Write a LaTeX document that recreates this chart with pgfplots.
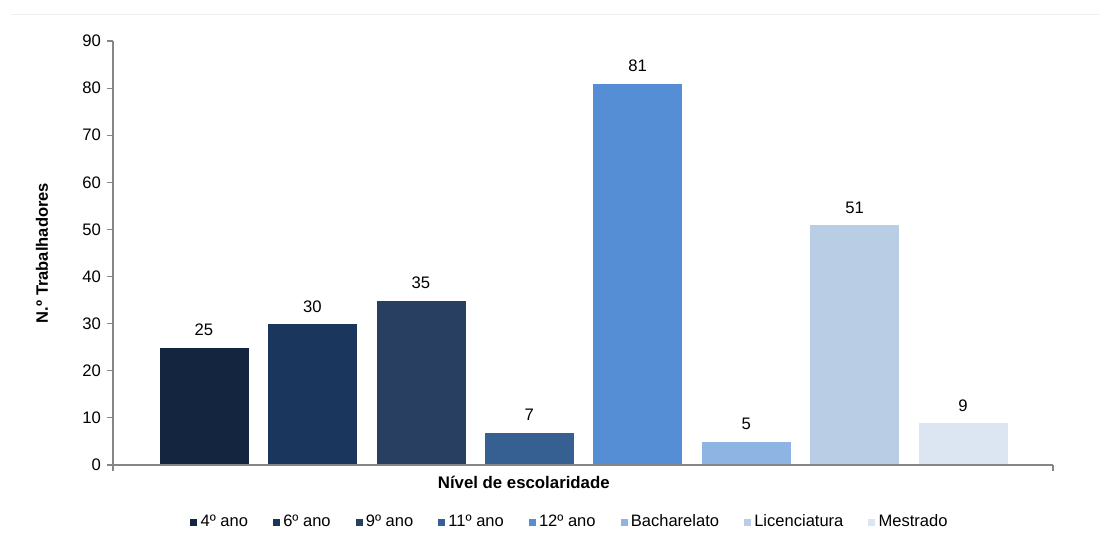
\documentclass[border=0pt]{standalone}
\usepackage{pgfplots}
\pgfplotsset{compat=1.18}
\usepackage{fontspec}
\setmainfont{Liberation Sans}

% Excel-like blue shades
\definecolor{c1}{RGB}{20,38,63}
\definecolor{c2}{RGB}{26,54,93}
\definecolor{c3}{RGB}{40,63,97}
\definecolor{c4}{RGB}{55,96,146}
\definecolor{c5}{RGB}{85,142,213}
\definecolor{c6}{RGB}{142,180,227}
\definecolor{c7}{RGB}{185,205,229}
\definecolor{c8}{RGB}{220,230,242}
\definecolor{axgray}{RGB}{134,134,134}

\begin{document}
\begin{tikzpicture}
  % page frame 1110 x 532 px at 0.75pt per px
  \path[use as bounding box] (0pt,0pt) rectangle (832.5pt,-399pt);
  \draw[black!6, line width=0.6pt] (8.25pt,-10.5pt) -- (825pt,-10.5pt);

  \begin{axis}[
    at={(84.75pt,-348.75pt)}, anchor=south west,
    scale only axis,
    width=705pt, height=318pt,
    xmin=-0.839, xmax=7.83,
    ymin=0, ymax=90,
    ytick distance=10,
    xtick={-0.839,7.83}, xticklabels={},
    axis x line*=bottom, axis y line*=left,
    axis on top,
    axis line style={axgray, line width=0.8pt},
    tick style={axgray, line width=0.8pt},
    tick align=outside, major tick length=4.5pt,
    ybar, bar width=0.83, bar shift=0pt,
    /pgf/number format/assume math mode=true,
    tick label style={font=\fontsize{12.5}{14}\selectfont},
    yticklabel style={xshift=-1pt},
    xlabel={\textbf{Nível de escolaridade}},
    xlabel style={at={(axis description cs:0.437,-0.042)}, anchor=center, font=\fontsize{12.6}{14}\selectfont},
    ylabel={\textbf{N.º Trabalhadores}},
    ylabel style={at={(axis description cs:-0.0755,0.5)}, anchor=center, font=\fontsize{12.4}{14}\selectfont},
    nodes near coords,
    nodes near coords style={font=\fontsize{12.5}{14}\selectfont, black, yshift=5pt},
    every axis plot/.append style={draw=white, line width=0.4pt},
    legend style={at={(axis description cs:0.486,-0.134)}, anchor=center,
      draw=none, legend columns=-1, font=\fontsize{12.4}{14}\selectfont,
      /tikz/every even column/.append style={column sep=16pt},
      inner sep=0pt},
    legend image code/.code={\fill[#1] (0pt,-3pt) rectangle (6pt,3pt);},
    legend cell align=left,
  ]
    \addplot[fill=c1] coordinates {(0,25)};
    \addplot[fill=c2] coordinates {(1,30)};
    \addplot[fill=c3] coordinates {(2,35)};
    \addplot[fill=c4] coordinates {(3,7)};
    \addplot[fill=c5] coordinates {(4,81)};
    \addplot[fill=c6] coordinates {(5,5)};
    \addplot[fill=c7] coordinates {(6,51)};
    \addplot[fill=c8] coordinates {(7,9)};
    \legend{4º ano,6º ano,9º ano,11º ano,12º ano,Bacharelato,Licenciatura,Mestrado}
  \end{axis}
\end{tikzpicture}
\end{document}
